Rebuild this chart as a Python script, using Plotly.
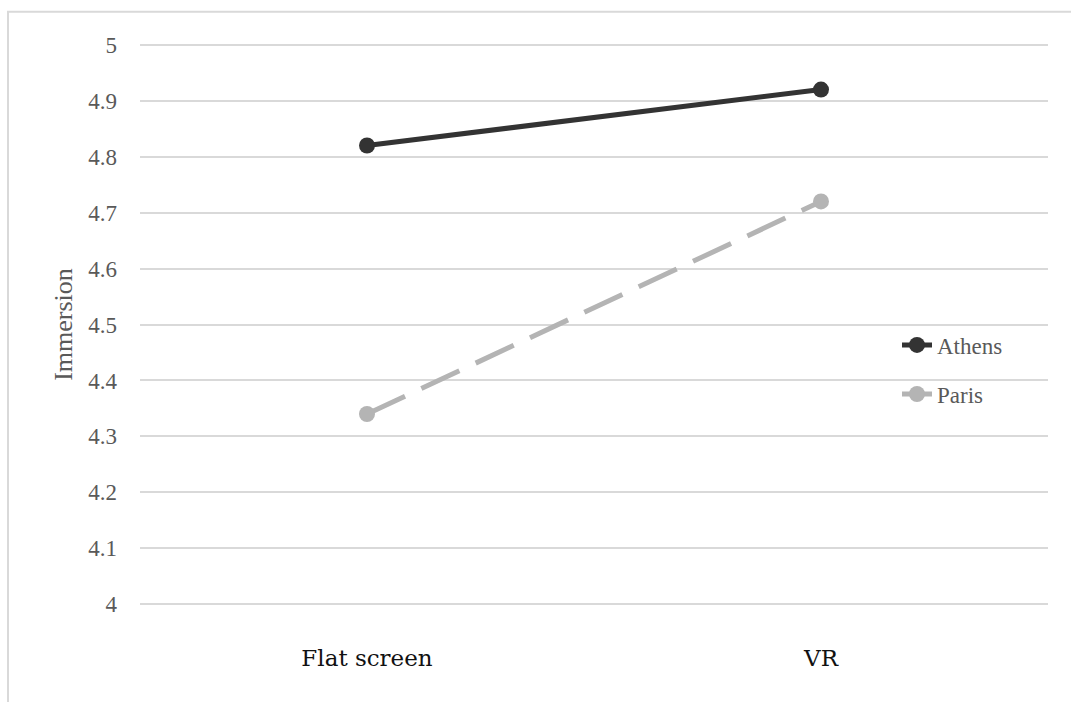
import plotly.graph_objects as go

categories = ["Flat screen", "VR"]
athens = [4.82, 4.92]
paris = [4.34, 4.72]
y_ticks = [4, 4.1, 4.2, 4.3, 4.4, 4.5, 4.6, 4.7, 4.8, 4.9, 5]
y_tick_text = ["4", "4.1", "4.2", "4.3", "4.4", "4.5", "4.6", "4.7", "4.8", "4.9", "5"]

W, H = 1071, 702
l, r = 140, 23
t, b = 42.2, 95.2
pw = W - l - r
ph = H - t - b

legend_font = dict(family="Liberation Serif", size=23, color="#595959")

fig = go.Figure()
fig.add_trace(go.Scatter(
    x=categories, y=athens, name="Athens", mode="lines+markers",
    line=dict(color="#333333", width=5),
    marker=dict(color="#333333", size=16),
    legend="legend",
))
fig.add_trace(go.Scatter(
    x=categories, y=paris, name="Paris", mode="lines+markers",
    line=dict(color="#b4b4b4", width=5, dash="42px,18px"),
    marker=dict(color="#b4b4b4", size=16),
    legend="legend2",
))

fig.update_layout(
    width=W, height=H,
    margin=dict(l=l, r=r, t=t, b=b),
    paper_bgcolor="white", plot_bgcolor="white",
    showlegend=True,
    legend=dict(
        x=(897 - l) / pw, xanchor="left",
        y=(H - b - 345) / ph, yanchor="middle",
        font=legend_font, bgcolor="rgba(0,0,0,0)", itemwidth=30,
    ),
    legend2=dict(
        x=(897 - l) / pw, xanchor="left",
        y=(H - b - 394) / ph, yanchor="middle",
        font=legend_font, bgcolor="rgba(0,0,0,0)", itemwidth=30,
    ),
    xaxis=dict(
        type="category", range=[-0.5, 1.5],
        showgrid=False, zeroline=False, showline=False,
        ticks="", ticklabelstandoff=35,
        tickfont=dict(family="DejaVu Serif", size=23, color="#111111"),
    ),
    yaxis=dict(
        range=[3.995, 5.005],
        tickvals=y_ticks, ticktext=y_tick_text,
        showgrid=True, gridcolor="#d9d9d9", gridwidth=1.5,
        zeroline=False, showline=False, ticks="",
        ticklabelstandoff=22,
        tickfont=dict(family="Liberation Serif", size=23, color="#595959"),
        title=dict(text="Immersion", standoff=8,
                   font=dict(family="Liberation Serif", size=26, color="#595959")),
    ),
)

fig.add_shape(
    type="rect", xref="paper", yref="paper",
    x0=(8 - l) / pw, x1=1.1,
    y0=-0.25, y1=(H - b - 12) / ph,
    line=dict(color="#d9d9d9", width=2), layer="below",
)

fig.write_html(
    "out.html",
    config={"displayModeBar": False},
    post_script="document.body.style.margin='0px';document.body.style.overflow='hidden';",
)
